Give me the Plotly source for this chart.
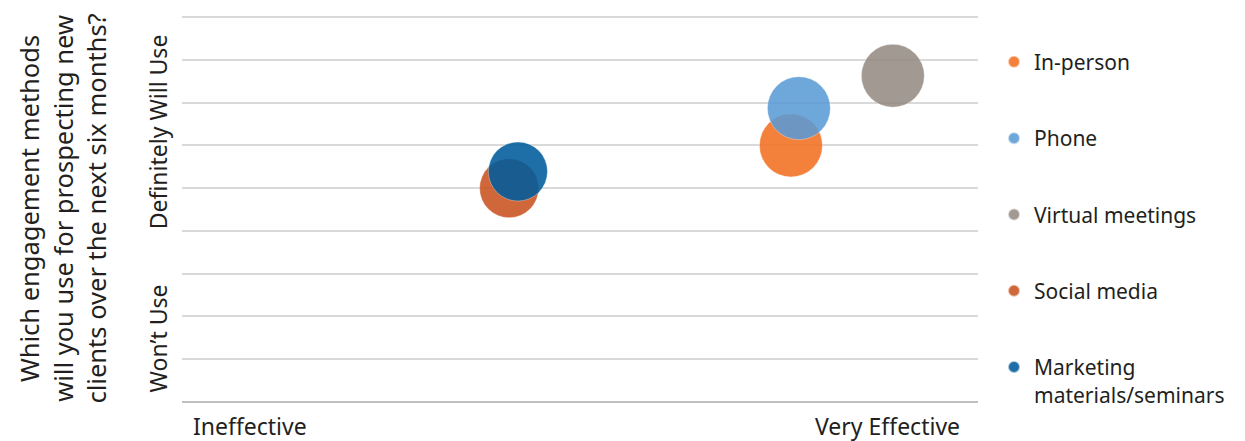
import plotly.graph_objects as go

# ---- data ----
methods = ["In-person", "Phone", "Virtual meetings", "Social media",
           "Marketing<br>materials/seminars"]
effectiveness = [7.65, 7.75, 8.93, 4.11, 4.22]     # x: Ineffective -> Very Effective
intent = [6.0, 6.87, 7.63, 5.0, 5.39]              # y: Won't Use -> Definitely Will Use
bubble_values = [10, 10, 10, 8.8, 8.8]
colors = ["#F37021", "#5B9BD5", "#958B84", "#C9531F", "#005C9C"]
x_labels = ["Ineffective", "Very Effective"]
x_label_vals = [0.854, 8.857]
y_labels = ["Won’t Use", "Definitely Will Use"]
y_label_vals = [1.49, 6.31]

FONT = "Noto Sans"
TXT = "#231F20"
max_d = 63
sizeref = 2 * max(bubble_values) / max_d ** 2

fig = go.Figure()
for i, m in enumerate(methods):
    fig.add_trace(go.Scatter(
        x=[effectiveness[i]], y=[intent[i]], mode="markers", name=m,
        legendgroup=str(i),
        marker=dict(size=[bubble_values[i]], sizemode="area", sizeref=sizeref,
                    color=colors[i], opacity=0.88,
                    line=dict(width=0.6, color="rgba(255,255,255,0.6)")),
        hoverinfo="name",
    ))

for txt, v in zip(y_labels, y_label_vals):
    fig.add_annotation(x=-0.030, xref="paper", y=v, yref="y", text=txt,
                       textangle=-90, showarrow=False, xanchor="center",
                       yanchor="middle",
                       font=dict(family=FONT, size=23, color=TXT))

for txt, v in zip(x_labels, x_label_vals):
    fig.add_annotation(x=v, xref="x", y=0, yref="paper", yshift=-24, text=txt,
                       showarrow=False, xanchor="center", yanchor="middle",
                       font=dict(family=FONT, size=23, color=TXT))

fig.add_annotation(x=-0.1508, xref="paper", y=0.5, yref="paper",
                   text="Which engagement methods<br>will you use for prospecting new<br>clients over the next six months?",
                   textangle=-90, showarrow=False, xanchor="center", yanchor="middle",
                   align="center",
                   font=dict(family=FONT, size=25.5, color=TXT))

fig.update_layout(
    width=1237, height=433,
    margin=dict(l=174, r=267, t=7.2, b=39.3, pad=0),
    paper_bgcolor="white", plot_bgcolor="white",
    font=dict(family=FONT, color=TXT),
    showlegend=True,
    legend=dict(x=1.0201, xanchor="left", y=0.931, yanchor="top",
                font=dict(family=FONT, size=21, color=TXT),
                tracegroupgap=46, itemsizing="constant", valign="top",
                bgcolor="rgba(0,0,0,0)"),
    xaxis=dict(range=[0, 10], showgrid=False, zeroline=False,
               showticklabels=False, ticks="", showline=False, fixedrange=True),
    yaxis=dict(range=[0, 9.05], tickvals=list(range(10)), showgrid=True,
               gridcolor="#D9D9D9", gridwidth=1.5, zeroline=True,
               zerolinecolor="#BFBFBF", zerolinewidth=2,
               showticklabels=False, ticks="", fixedrange=True),
)

fig.write_html("out.html")
